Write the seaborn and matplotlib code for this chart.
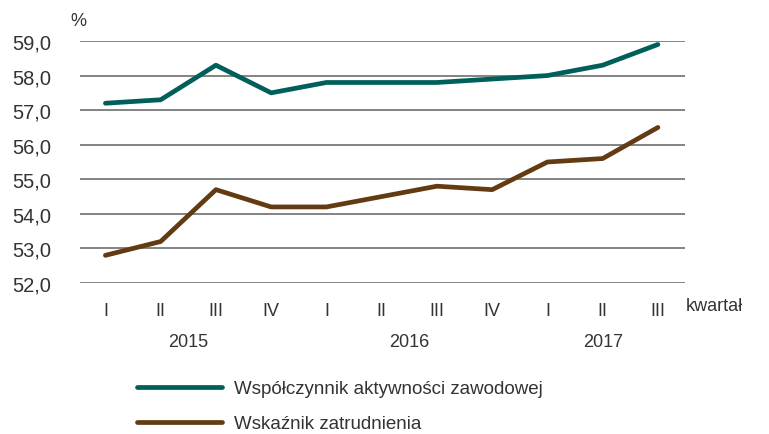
import pandas as pd
import numpy as np
import matplotlib
matplotlib.use("Agg")
import matplotlib.pyplot as plt
import matplotlib.transforms as mtransforms
import seaborn as sns

# Data
quarters = ["I", "II", "III", "IV", "I", "II", "III", "IV", "I", "II", "III"]
years = ["2015", "2016", "2017"]
year_centers = [1.5, 5.5, 9.0]
activity_rate = [57.2, 57.3, 58.3, 57.5, 57.8, 57.8, 57.8, 57.9, 58.0, 58.3, 58.9]
employment_rate = [52.8, 53.2, 54.7, 54.2, 54.2, 54.5, 54.8, 54.7, 55.5, 55.6, 56.5]
series_names = ["Współczynnik aktywności zawodowej", "Wskaźnik zatrudnienia"]
colors = ["#005f5b", "#633b13"]
y_ticks = [52, 53, 54, 55, 56, 57, 58, 59]

df = pd.DataFrame({
    "idx": list(range(len(quarters))) * 2,
    "value": activity_rate + employment_rate,
    "series": [series_names[0]] * len(quarters) + [series_names[1]] * len(quarters),
})

sns.set_theme(style="white")
plt.rcParams["font.family"] = ["Liberation Sans", "DejaVu Sans"]
text_color = "#333333"

fig = plt.figure(figsize=(7.69, 4.35), dpi=100)
ax = fig.add_axes([80 / 769, 1 - 284 / 435, 605 / 769, 242 / 435])

sns.lineplot(data=df, x="idx", y="value", hue="series", palette=colors,
             linewidth=3.4, ax=ax, legend=True, solid_capstyle="round")

ax.set_xlim(-0.46, 10.49)
ax.set_ylim(52, 59)
ax.set_yticks(y_ticks)
ax.set_yticklabels([f"{v:.1f}".replace(".", ",") for v in y_ticks],
                   fontsize=14.5, color=text_color)
ax.set_xticks(range(len(quarters)))
ax.set_xticklabels(quarters, fontsize=13, color=text_color)
ax.tick_params(axis="y", length=0, pad=21)
ax.tick_params(axis="x", length=0, pad=14)
ax.set_xlabel("")
ax.set_ylabel("")
for s in ax.spines.values():
    s.set_visible(False)
for v in y_ticks:
    ax.axhline(v, color="#7a7a7a", linewidth=1.3, zorder=0)

# year labels under the quarter ticks
trans = mtransforms.blended_transform_factory(ax.transData, ax.transAxes)
for yr, xc in zip(years, year_centers):
    ax.text(xc, -0.24, yr, transform=trans, ha="center", va="center",
            fontsize=13, color=text_color)

ax.text(686 / 769, 1 - 307 / 435, "kwartał", transform=fig.transFigure,
        ha="left", va="center", fontsize=13, color=text_color)
ax.text(70 / 769, 1 - 22 / 435, "%", transform=fig.transFigure,
        ha="left", va="center", fontsize=13, color=text_color)

handles, labels = ax.get_legend_handles_labels()
ax.legend(handles, labels, loc="upper left", bbox_to_anchor=(124 / 769, 1 - 368 / 435),
          bbox_transform=fig.transFigure, frameon=False, fontsize=13.5,
          handlelength=4.5, handletextpad=0.65, labelspacing=0.95,
          borderpad=0.2, labelcolor=text_color)

fig.savefig("out.png", dpi=100)
plt.close(fig)
